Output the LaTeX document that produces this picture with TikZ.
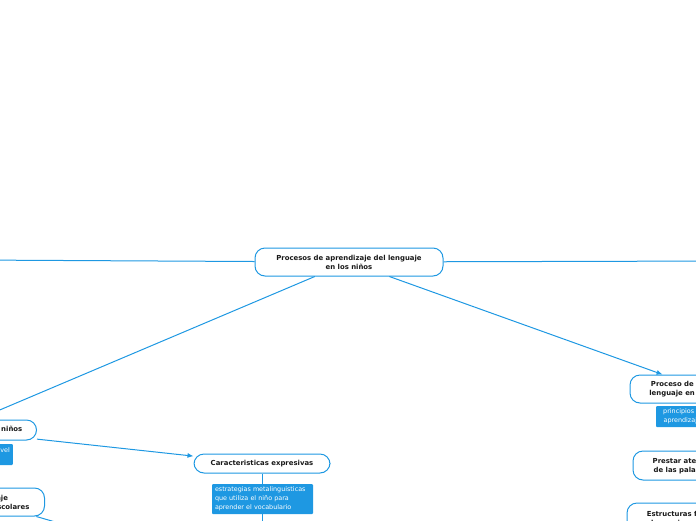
\documentclass[tikz,border=0pt]{standalone}
\usepackage{fontspec}
\setmainfont{DejaVu Sans}
\usetikzlibrary{arrows.meta}
\definecolor{mmblue}{RGB}{30,152,226}
\definecolor{mmtext}{RGB}{25,25,25}
\begin{document}
\begin{tikzpicture}[x=1pt,y=-1pt,
  topic/.style={draw=mmblue, line width=1pt, rounded corners=10pt, fill=white,
    align=center, font=\fontsize{6.9}{9}\selectfont\bfseries, text=mmtext, inner sep=0pt},
  subbox/.style={fill=mmblue, text=white, rounded corners=1pt, inner xsep=3pt, inner ysep=0pt,
    font=\fontsize{6.4}{9}\selectfont},
  link/.style={draw=mmblue, line width=1pt},
  arr/.style={link, -{Latex[length=6pt,width=5pt]}}]
\useasboundingbox (0,0) rectangle (696,520);
\begin{scope}
\clip (0,0) rectangle (696,520);
% nodes
\node[topic, minimum width=188pt, minimum height=28pt] (root) at (349,262)
  {Procesos de aprendizaje del lenguaje\\en los niños};
\node[topic, anchor=east, minimum width=168pt, minimum height=20pt] (n1) at (37,430)
  {Desarrollo del lenguaje en los niños};
\node[subbox, anchor=east, align=left, minimum height=21pt] (v1) at (13,454.5)
  {desarrollo a nivel\\semántico};
\node[topic, anchor=east, minimum width=116pt, minimum height=28pt] (je) at (45,502)
  {El lenguaje\\en los niños escolares};
\node[topic, minimum width=136pt, minimum height=19pt] (car) at (262,463.5)
  {Caracteristicas expresivas};
\node[subbox, align=left, text width=95pt, minimum height=30pt] (s1) at (262.5,499)
  {estrategias metalinguisticas\\que utiliza el niño para\\aprender el vocabulario};
\node[topic, minimum width=146pt, minimum height=28pt] (proc) at (703,389)
  {Proceso de adquisición del\\lenguaje en edad temprana};
\node[subbox, align=center, minimum width=94pt, minimum height=21pt] (psub) at (703,416.5)
  {principios universales de\\aprendizaje del lenguaje};
\node[topic, minimum width=146pt, minimum height=29pt] (prest) at (706,465.5)
  {Prestar atención a la forma\\de las palabras en el habla};
\node[topic, minimum width=146pt, minimum height=32pt] (estr) at (700,519)
  {Estructuras fonológicas del\\lenguaje en edad escolar};
% free ends of connectors
\coordinate (offL) at (-30,260);
\coordinate (offR) at (730,261);
\coordinate (s1c) at (262,560);
\coordinate (jec) at (100,535);
% connectors
\draw[arr] (root) -- (offL);
\draw[arr] (root) -- (offR);
\draw[arr] (root) -- (n1);
\draw[arr] (root) -- (proc);
\draw[arr] (n1) -- (car);
\draw[link] (car) -- (car |- s1.north);
\draw[link] (s1.south -| car) -- (s1c -| car);
\draw[link] (je) -- (jec);
\end{scope}
\end{tikzpicture}
\end{document}
